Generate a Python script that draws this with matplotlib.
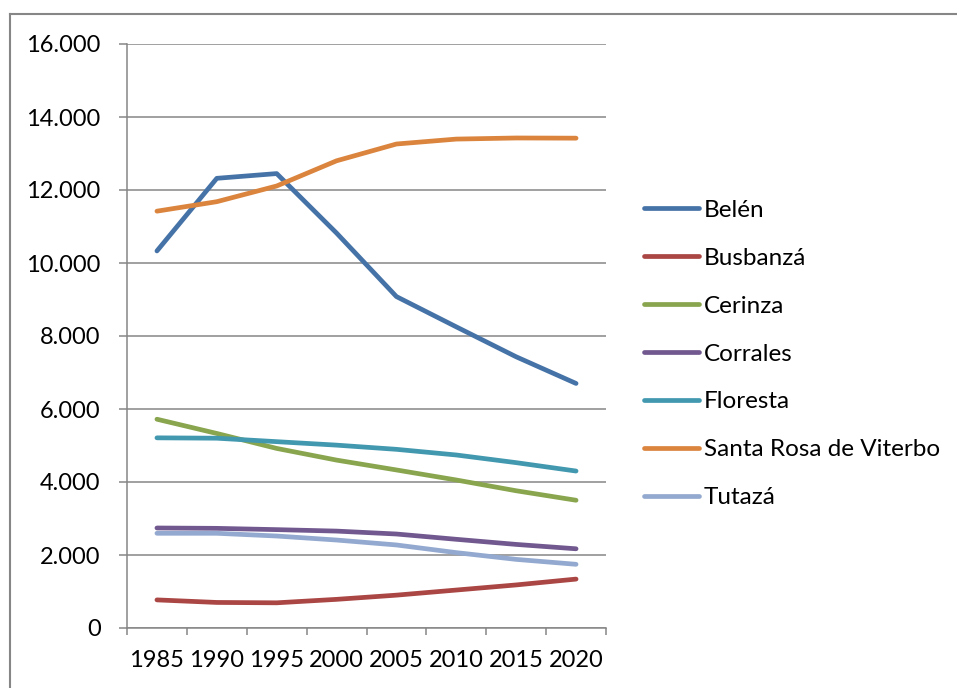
import numpy as np
import matplotlib
matplotlib.use("Agg")
import matplotlib.pyplot as plt
from matplotlib.lines import Line2D
from matplotlib.ticker import FuncFormatter

# Years (categories on the x axis)
years = ["1985", "1990", "1995", "2000", "2005", "2010", "2015", "2020"]

# Population per municipality
belen = [10330, 12320, 12450, 10820, 9080, 8250, 7430, 6700]
busbanza = [770, 700, 690, 785, 900, 1040, 1180, 1340]
cerinza = [5720, 5330, 4920, 4600, 4330, 4055, 3760, 3500]
corrales = [2740, 2730, 2695, 2655, 2575, 2430, 2290, 2170]
floresta = [5210, 5200, 5105, 5010, 4895, 4740, 4530, 4300]
santa_rosa = [11420, 11680, 12110, 12800, 13260, 13395, 13425, 13420]
tutaza = [2595, 2595, 2520, 2410, 2275, 2065, 1880, 1745]

names = ["Belén", "Busbanzá", "Cerinza", "Corrales", "Floresta",
         "Santa Rosa de Viterbo", "Tutazá"]
series = [belen, busbanza, cerinza, corrales, floresta, santa_rosa, tutaza]
colors = ["#4572A7", "#AA4643", "#89A54E", "#71588F", "#4198AF",
          "#DB843D", "#93A9CF"]

plt.rcParams['font.family'] = ['Lato', 'DejaVu Sans']
grey = "#868686"

fig = plt.figure(figsize=(9.57, 6.88), dpi=100)
ax = fig.add_axes([127 / 957, 1 - 628 / 688, (606 - 127) / 957, (628 - 44) / 688])

x = np.arange(len(years))
for vals, name, c in zip(series, names, colors):
    ax.plot(x, vals, color=c, lw=3.4, label=name, solid_capstyle='round',
            solid_joinstyle='round')

# Axes, grid and ticks in Excel style
ax.set_xlim(-0.5, len(years) - 0.5)
ax.set_ylim(0, 16000)
ax.set_yticks(np.arange(0, 16001, 2000))
ax.yaxis.set_major_formatter(FuncFormatter(lambda v, p: f"{int(v):,}".replace(",", ".")))
ax.grid(axis='y', color=grey, lw=1.1)
ax.set_axisbelow(True)

ax.set_xticks(np.arange(-0.5, len(years), 1.0))
ax.set_xticklabels([])
ax.set_xticks(x, minor=True)
ax.set_xticklabels(years, minor=True)
ax.tick_params(axis='x', which='major', length=5, color=grey, width=1.1, direction='out')
ax.tick_params(axis='x', which='minor', length=0, pad=16, labelsize=17)
ax.tick_params(axis='y', length=6, color=grey, width=1.1, pad=13, labelsize=17)

for side in ['top', 'right']:
    ax.spines[side].set_visible(False)
for side in ['left', 'bottom']:
    ax.spines[side].set_color(grey)
    ax.spines[side].set_linewidth(1.1)

leg = fig.legend(loc='center left', bbox_to_anchor=(644 / 957, 1 - 354 / 688),
                 frameon=False, fontsize=17.5, handlelength=2.25, handletextpad=0.2,
                 labelspacing=1.11, borderpad=0, borderaxespad=0)

# Outer chart border (top and left edges visible)
fig.add_artist(Line2D([10 / 957, 1], [1 - 14 / 688, 1 - 14 / 688], color=grey, lw=1.5))
fig.add_artist(Line2D([10 / 957, 10 / 957], [0, 1 - 14 / 688], color=grey, lw=1.5))

fig.savefig("out.png", dpi=100)
